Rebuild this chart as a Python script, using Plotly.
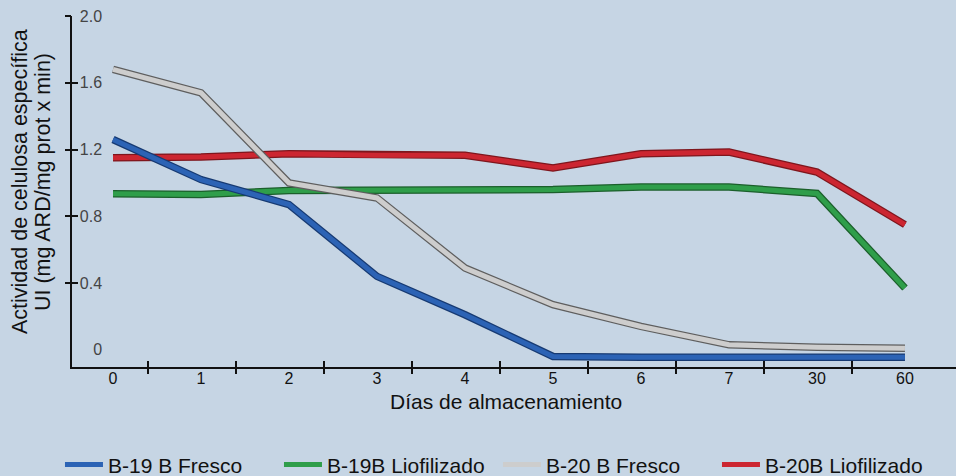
import plotly.graph_objects as go

# Data
dias = ["0", "1", "2", "3", "4", "5", "6", "7", "30", "60"]
b19_fresco = [1.26, 1.02, 0.87, 0.44, 0.21, -0.04, -0.045, -0.045, -0.045, -0.045]
b19_liof = [0.935, 0.93, 0.955, 0.955, 0.96, 0.96, 0.975, 0.975, 0.937, 0.37]
b20_fresco = [1.68, 1.54, 1.00, 0.91, 0.49, 0.27, 0.14, 0.03, 0.015, 0.01]
b20_liof = [1.15, 1.155, 1.175, 1.165, 1.165, 1.09, 1.175, 1.185, 1.065, 0.75]
y_ticks = [0, 0.4, 0.8, 1.2, 1.6, 2.0]
y_ticktext = ["\u00a0\u00a0\u00a00", "0.4", "0.8", "1.2", "1.6", "2.0"]
x_title = "Días de almacenamiento"
y_title_1 = "Actividad de celulosa específica"
y_title_2 = "UI (mg ARD/mg prot x min)"

series = [
    # name, values, main colour, outline colour, legend rank
    ("B-19B Liofilizado", b19_liof, "#2f9e4a", "#1b5f2b", 2),
    ("B-20B Liofilizado", b20_liof, "#cc2631", "#7e161d", 4),
    ("B-20 B Fresco", b20_fresco, "#cdcdcd", "#5e5e5e", 3),
    ("B-19 B Fresco", b19_fresco, "#2c63b5", "#173a72", 1),
]

xs = list(range(len(dias)))
fig = go.Figure()
for name, vals, col, dark, rank in series:
    fig.add_trace(go.Scatter(x=xs, y=vals, mode="lines", showlegend=False,
                             hoverinfo="skip",
                             line=dict(color=dark, width=7.5)))
    fig.add_trace(go.Scatter(x=xs, y=vals, mode="lines", name=name,
                             legendrank=rank,
                             line=dict(color=col, width=5)))

# empty traces that only register the overlay axes carrying the cross ticks
for k in ("2", "3"):
    fig.add_trace(go.Scatter(x=[None], y=[None], xaxis="x" + k, yaxis="y" + k,
                             showlegend=False, hoverinfo="skip"))

bg = "#c6d5e4"
font = "Liberation Sans, Arial, sans-serif"
xr = [-0.466, 9.58]
yr = [-0.103, 2.0]
between = [i + 0.4 for i in range(len(dias) - 1)]
tick_style = dict(ticklen=6, tickwidth=1.5, tickcolor="#111111",
                  showticklabels=False, showgrid=False, zeroline=False,
                  showline=False)

fig.update_layout(
    width=956, height=476,
    margin=dict(l=72, r=0, t=16, b=109, autoexpand=False),
    paper_bgcolor=bg, plot_bgcolor=bg,
    font=dict(family=font, color="#111111", size=16),
    showlegend=True,
    legend=dict(orientation="h", x=-0.0136, xanchor="left", y=-0.279,
                yanchor="middle", font=dict(size=21), bgcolor="rgba(0,0,0,0)",
                entrywidth=166, itemwidth=38),
    xaxis=dict(range=xr, tickvals=xs, ticktext=dias, ticks="",
               ticklabelstandoff=-4, automargin=False,
               showline=True, linecolor="#111111", linewidth=2,
               showgrid=False, zeroline=False),
    xaxis2=dict(range=xr, overlaying="x", anchor="y", tickvals=between,
                ticks="outside", **tick_style),
    xaxis3=dict(range=xr, overlaying="x", anchor="y", tickvals=between,
                ticks="inside", **tick_style),
    yaxis=dict(range=yr, tickvals=y_ticks, ticktext=y_ticktext, ticks="",
               ticklabelposition="inside", ticklabelstandoff=8,
               ticklabeloverflow="allow", automargin=False,
               showline=True, linecolor="#111111", linewidth=2,
               showgrid=False, zeroline=False),
    yaxis2=dict(range=yr, overlaying="y", anchor="x", tickvals=y_ticks[1:],
                ticks="outside", **tick_style),
    yaxis3=dict(range=yr, overlaying="y", anchor="x", tickvals=y_ticks[1:],
                ticks="inside", **tick_style),
    annotations=[
        dict(text=x_title, xref="paper", yref="paper", x=0.491, y=-0.0997,
             xanchor="center", yanchor="middle", showarrow=False,
             font=dict(size=21)),
        dict(text=y_title_1, xref="paper", yref="paper", x=-0.0588, y=0.527,
             xanchor="center", yanchor="middle", showarrow=False,
             textangle=-90, font=dict(size=21.5)),
        dict(text=y_title_2, xref="paper", yref="paper", x=-0.0328, y=0.527,
             xanchor="center", yanchor="middle", showarrow=False,
             textangle=-90, font=dict(size=21.5)),
    ],
)

fig.write_html(
    "out.html",
    config={"displayModeBar": False},
    post_script="document.body.style.margin='0';"
                "document.body.style.background='" + bg + "';",
)
